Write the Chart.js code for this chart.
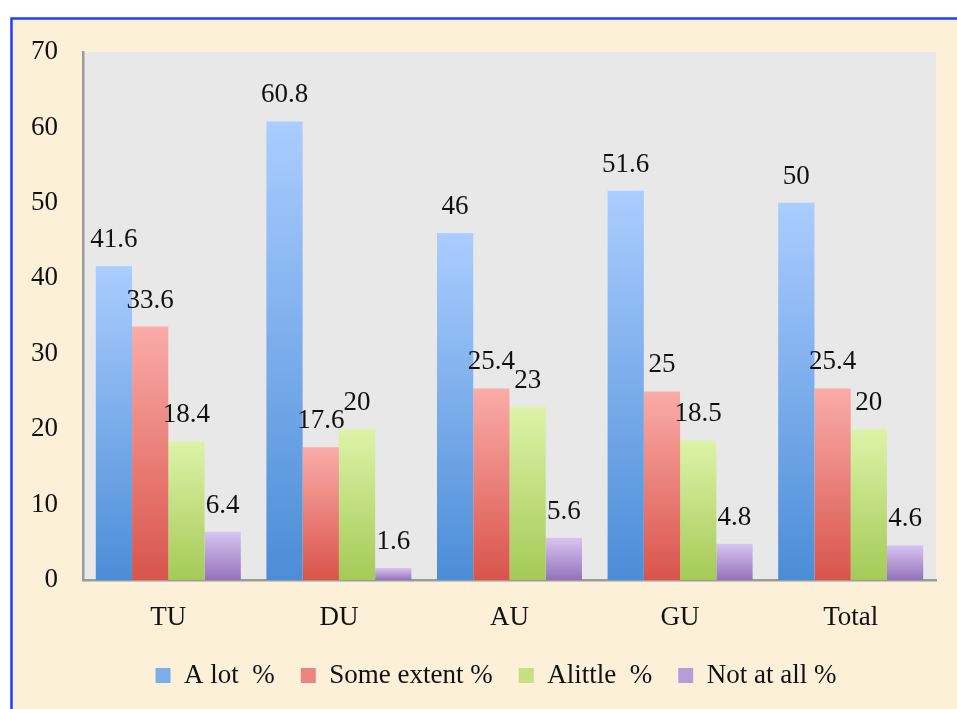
<!DOCTYPE html>
<html>
<head>
<meta charset="utf-8">
<script src="https://cdn.jsdelivr.net/npm/chart.js@4.4.0/dist/chart.umd.min.js"></script>
<style>
  html, body { margin: 0; padding: 0; background: #fff; }
  #wrap { width: 957px; height: 709px; position: relative; }
</style>
</head>
<body>
<div id="wrap"><canvas id="chart" width="957" height="709"></canvas></div>
<script>
// chart data
const categories = ["TU", "DU", "AU", "GU", "Total"];
const seriesNames = ["A lot  %", "Some extent %", "Alittle  %", "Not at all %"];
const aLot = [41.6, 60.8, 46, 51.6, 50];
const someExtent = [33.6, 17.6, 25.4, 25, 25.4];
const aLittle = [18.4, 20, 23, 18.5, 20];
const notAtAll = [6.4, 1.6, 5.6, 4.8, 4.6];
const yTicks = [0, 10, 20, 30, 40, 50, 60, 70];

// colours: [top of bar, bottom of bar, legend swatch]
const palette = [
  ["#abcdff", "#4b8dd7", "#7aaee9"],
  ["#faaca8", "#d9544b", "#ec8580"],
  ["#ddf3a8", "#a5ca57", "#c4e07f"],
  ["#d8c4f1", "#9473ba", "#b69dd8"]
];

const FONT = "'Liberation Serif', 'Times New Roman', serif";

function barGradient(idx) {
  return (c) => {
    const { ctx, chartArea, scales } = c.chart;
    if (!chartArea || c.dataIndex === undefined) return palette[idx][2];
    const top = scales.y.getPixelForValue(c.raw);
    const bottom = scales.y.getPixelForValue(0);
    const g = ctx.createLinearGradient(0, top, 0, bottom);
    g.addColorStop(0, palette[idx][0]);
    g.addColorStop(1, palette[idx][1]);
    return g;
  };
}

// page background: parchment with a blue frame, grey plot area
const backdrop = {
  id: "backdrop",
  beforeDraw(chart) {
    const { ctx, chartArea: a } = chart;
    ctx.save();
    ctx.fillStyle = "#ffffff";
    ctx.fillRect(0, 0, chart.width, chart.height);
    ctx.fillStyle = "#fcf0d9";
    ctx.fillRect(11, 18, chart.width - 11, chart.height - 18);
    ctx.strokeStyle = "#1f3fff";
    ctx.lineWidth = 2.5;
    ctx.beginPath();
    ctx.moveTo(11.5, chart.height);
    ctx.lineTo(11.5, 18.5);
    ctx.lineTo(chart.width, 18.5);
    ctx.stroke();
    ctx.fillStyle = "#e8e8e8";
    ctx.fillRect(a.left, a.top, a.right - a.left, a.bottom - a.top);
    ctx.restore();
  }
};

// legend sits a bit right of the canvas centre in the original
const legendShift = {
  id: "legendShift",
  afterLayout(chart) {
    const lg = chart.legend;
    if (!lg) return;
    lg.left += 28;
    lg.right += 28;
    lg.top -= 10;
    lg.bottom -= 10;
  }
};

// value labels over each bar
const valueLabels = {
  id: "valueLabels",
  afterDatasetsDraw(chart) {
    const { ctx } = chart;
    ctx.save();
    ctx.font = "27px " + FONT;
    ctx.fillStyle = "#111";
    ctx.textAlign = "center";
    ctx.textBaseline = "alphabetic";
    chart.data.datasets.forEach((ds, i) => {
      chart.getDatasetMeta(i).data.forEach((bar, j) => {
        ctx.fillText(String(ds.data[j]), bar.x, bar.y - 19);
      });
    });
    ctx.restore();
  }
};

const seriesData = [aLot, someExtent, aLittle, notAtAll];

new Chart(document.getElementById("chart"), {
  type: "bar",
  data: {
    labels: categories,
    datasets: seriesNames.map((name, i) => ({
      label: name,
      data: seriesData[i],
      backgroundColor: barGradient(i),
      borderWidth: 0
    }))
  },
  options: {
    responsive: false,
    animation: false,
    devicePixelRatio: 1,
    categoryPercentage: 0.85,
    barPercentage: 1.0,
    layout: { padding: { left: 0, right: 21, top: 52, bottom: 0 } },
    plugins: {
      tooltip: { enabled: false },
      legend: {
        position: "bottom",
        labels: {
          color: "#111",
          font: { family: FONT, size: 27 },
          boxWidth: 15,
          boxHeight: 15,
          padding: 26,
          generateLabels(chart) {
            return chart.data.datasets.map((ds, i) => ({
              text: ds.label,
              fillStyle: palette[i][2],
              strokeStyle: palette[i][2],
              lineWidth: 0,
              datasetIndex: i,
              fontColor: "#111"
            }));
          }
        }
      }
    },
    scales: {
      x: {
        grid: { display: false },
        border: { display: true, color: "#9c9c9c", width: 2.5 },
        ticks: { color: "#111", font: { family: FONT, size: 27 }, padding: 14 },
        afterFit(s) {
          const leg = s.chart.legend ? s.chart.legend.height : 0;
          s.height = s.chart.height - leg - 580;
        }
      },
      y: {
        min: 0,
        max: 70,
        afterBuildTicks(s) { s.ticks = yTicks.map(v => ({ value: v })); },
        grid: { display: false },
        border: { display: true, color: "#9c9c9c", width: 2.5 },
        ticks: { color: "#111", font: { family: FONT, size: 27 }, padding: 17 },
        afterFit(s) { s.width = 83; }
      }
    }
  },
  plugins: [backdrop, legendShift, valueLabels]
});
</script>
</body>
</html>
